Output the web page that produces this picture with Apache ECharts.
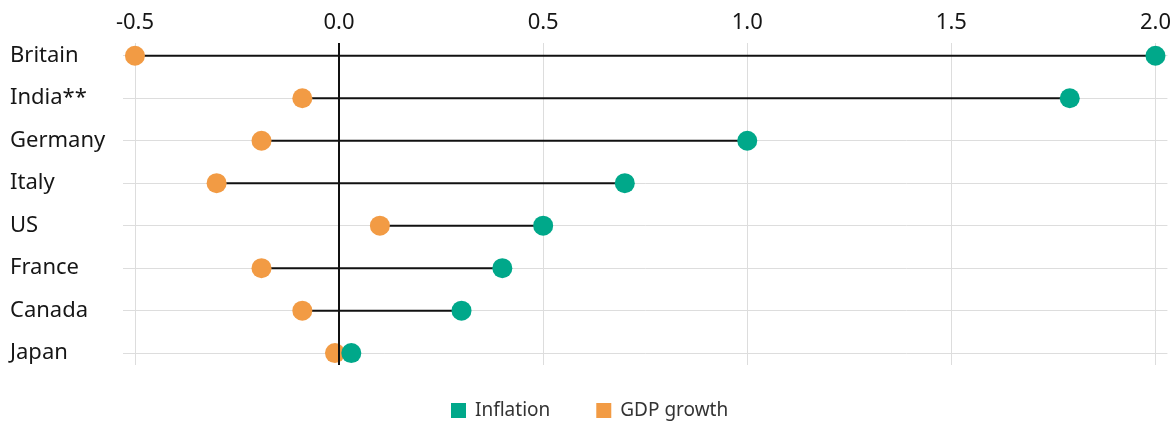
<!DOCTYPE html>
<html>
<head>
<meta charset="utf-8">
<script src="https://cdn.jsdelivr.net/npm/echarts@6/dist/echarts.min.js"></script>
<style>
html,body{margin:0;padding:0;background:#fff;}
#chart{width:1174px;height:422px;}
</style>
</head>
<body>
<div id="chart"></div>
<script>
const categories = ['Britain', 'India**', 'Germany', 'Italy', 'US', 'France', 'Canada', 'Japan'];
const inflation = [2.0, 1.79, 1.0, 0.7, 0.5, 0.4, 0.3, 0.03];
const gdpGrowth = [-0.5, -0.09, -0.19, -0.3, 0.1, -0.19, -0.09, -0.01];
const xTicks = [-0.5, 0.0, 0.5, 1.0, 1.5, 2.0];

const GREEN = '#00a88a';
const ORANGE = '#f29b44';
const FONT = 'Noto Sans';
const idx = categories.map((c, i) => i);

const chart = echarts.init(document.getElementById('chart'), null, {renderer: 'canvas'});
chart.setOption({
  animation: false,
  backgroundColor: '#ffffff',
  textStyle: {fontFamily: FONT},
  grid: {left: 123, right: 4, top: 43, bottom: 57, containLabel: false},
  legend: {
    left: 446, top: 396,
    itemWidth: 15, itemHeight: 15, itemGap: 46,
    icon: 'rect',
    data: ['Inflation', 'GDP growth'],
    textStyle: {fontFamily: FONT, fontSize: 19, color: '#333', padding: [0, 0, 0, 4]}
  },
  xAxis: {
    type: 'value', position: 'top',
    min: -0.5293, max: 2.0293,
    axisLine: {show: false},
    axisTick: {show: false, customValues: xTicks},
    axisLabel: {
      customValues: xTicks, margin: 9,
      fontFamily: FONT, fontSize: 22, color: '#161616',
      formatter: v => v.toFixed(1)
    },
    splitLine: {show: true, lineStyle: {color: '#dddddd', width: 1}}
  },
  yAxis: {
    type: 'value', inverse: true,
    min: -0.3, max: 7.28,
    axisLine: {show: false},
    axisTick: {show: false, customValues: idx},
    axisLabel: {
      customValues: idx, margin: 113, align: 'left',
      fontFamily: FONT, fontSize: 22, color: '#161616',
      formatter: v => categories[Math.round(v)]
    },
    splitLine: {show: true, lineStyle: {color: '#dddddd', width: 1}}
  },
  series: [
    {
      type: 'custom', name: 'connectors', z: 1, silent: true,
      data: categories.map((c, i) => [gdpGrowth[i], inflation[i], i]),
      encode: {x: [0, 1], y: 2},
      renderItem: (params, api) => {
        const a = api.coord([api.value(0), api.value(2)]);
        const b = api.coord([api.value(1), api.value(2)]);
        return {type: 'line', shape: {x1: a[0], y1: a[1], x2: b[0], y2: b[1]},
                style: {stroke: '#111111', lineWidth: 2}};
      },
      markLine: {
        silent: true, symbol: 'none', label: {show: false},
        lineStyle: {color: '#111111', width: 2, type: 'solid'},
        data: [{xAxis: 0}]
      }
    },
    {
      type: 'scatter', name: 'GDP growth', z: 3,
      symbolSize: 20, itemStyle: {color: ORANGE, opacity: 1},
      data: categories.map((c, i) => [gdpGrowth[i], i])
    },
    {
      type: 'scatter', name: 'Inflation', z: 4,
      symbolSize: 20, itemStyle: {color: GREEN, opacity: 1},
      data: categories.map((c, i) => [inflation[i], i])
    }
  ]
});
</script>
</body>
</html>
